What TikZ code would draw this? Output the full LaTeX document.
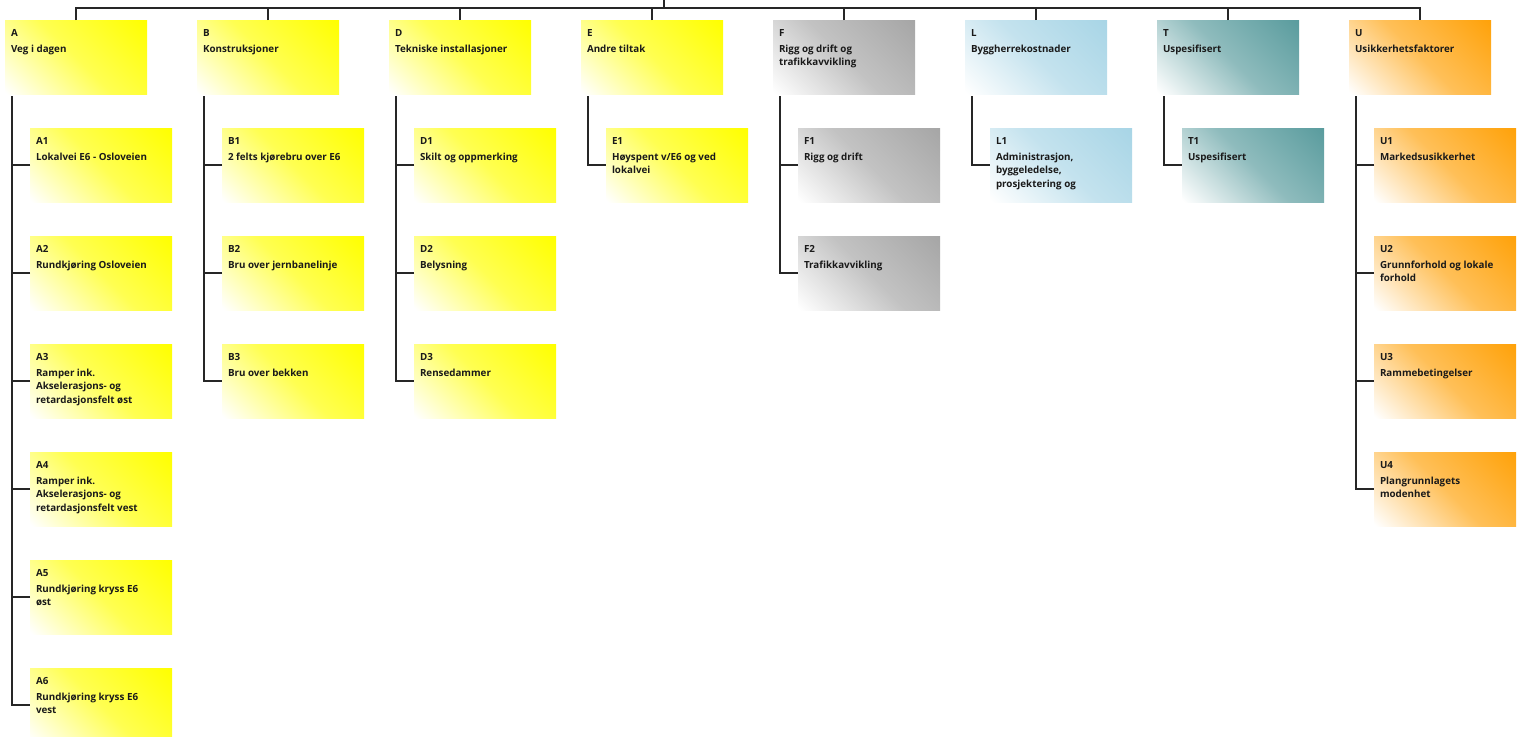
\documentclass[tikz,border=0pt]{standalone}
\usepackage{fontspec}
\setmainfont{Open Sans}
\definecolor{cyel}{HTML}{FFFF00}
\definecolor{cgray}{HTML}{A6A6A6}
\definecolor{cblue}{HTML}{A8D5E6}
\definecolor{cteal}{HTML}{5A9C9E}
\definecolor{corange}{HTML}{FFA20A}
\definecolor{ctext}{HTML}{1A1A1A}
\colorlet{wbsc}{cyel}
\colorlet{wbsm}{cyel}
\pgfdeclareverticalshading[wbsc,wbsm]{wbsfade}{100bp}{color(0bp)=(white); color(15bp)=(white); color(50bp)=(wbsm); color(85bp)=(wbsc); color(100bp)=(wbsc)}
\newcommand\wbstxt[2]{\parbox[t][74pt][t]{130pt}{\raggedright\fontsize{9.8pt}{13.5pt}\selectfont\color{ctext}\bfseries\rule{0pt}{16pt}#1\par\vspace{2.5pt}#2\par}}
\begin{document}
\begin{tikzpicture}[x=1pt,y=-1pt,
  conn/.style={line width=1.3pt, draw=black!85},
  wbs/.style={anchor=north west, inner xsep=6pt, inner ysep=0pt, outer sep=0pt, minimum width=142pt,
    /utils/exec={\colorlet{wbsc}{#1}\colorlet{wbsm}{#1!68!white}},
    shade, shading=wbsfade, shading angle=-45},
]
\useasboundingbox (0,0) rectangle (1520,736);
% parents
\node[wbs=cyel] (A) at (5,20) {\wbstxt{A}{Veg i dagen}};
\node[wbs=cyel] (B) at (197,20) {\wbstxt{B}{Konstruksjoner}};
\node[wbs=cyel] (D) at (389,20) {\wbstxt{D}{Tekniske installasjoner}};
\node[wbs=cyel] (E) at (581,20) {\wbstxt{E}{Andre tiltak}};
\node[wbs=cgray] (F) at (773,20) {\wbstxt{F}{Rigg og drift og\\trafikkavvikling}};
\node[wbs=cblue] (L) at (965,20) {\wbstxt{L}{Byggherrekostnader}};
\node[wbs=cteal] (T) at (1157,20) {\wbstxt{T}{Uspesifisert}};
\node[wbs=corange] (U) at (1349,20) {\wbstxt{U}{Usikkerhetsfaktorer}};
% children A
\node[wbs=cyel] (A1) at (30,128) {\wbstxt{A1}{Lokalvei E6 - Osloveien}};
\node[wbs=cyel] (A2) at (30,236) {\wbstxt{A2}{Rundkjøring Osloveien}};
\node[wbs=cyel] (A3) at (30,344) {\wbstxt{A3}{Ramper ink.\\Akselerasjons- og\\retardasjonsfelt øst}};
\node[wbs=cyel] (A4) at (30,452) {\wbstxt{A4}{Ramper ink.\\Akselerasjons- og\\retardasjonsfelt vest}};
\node[wbs=cyel] (A5) at (30,560) {\wbstxt{A5}{Rundkjøring kryss E6\\øst}};
\node[wbs=cyel] (A6) at (30,668) {\wbstxt{A6}{Rundkjøring kryss E6\\vest}};
% children B
\node[wbs=cyel] (B1) at (222,128) {\wbstxt{B1}{2 felts kjørebru over E6}};
\node[wbs=cyel] (B2) at (222,236) {\wbstxt{B2}{Bru over jernbanelinje}};
\node[wbs=cyel] (B3) at (222,344) {\wbstxt{B3}{Bru over bekken}};
% children D
\node[wbs=cyel] (D1) at (414,128) {\wbstxt{D1}{Skilt og oppmerking}};
\node[wbs=cyel] (D2) at (414,236) {\wbstxt{D2}{Belysning}};
\node[wbs=cyel] (D3) at (414,344) {\wbstxt{D3}{Rensedammer}};
% children E
\node[wbs=cyel] (E1) at (606,128) {\wbstxt{E1}{Høyspent v/E6 og ved\\lokalvei}};
% children F
\node[wbs=cgray] (F1) at (798,128) {\wbstxt{F1}{Rigg og drift}};
\node[wbs=cgray] (F2) at (798,236) {\wbstxt{F2}{Trafikkavvikling}};
% children L
\node[wbs=cblue] (L1) at (990,128) {\wbstxt{L1}{Administrasjon,\\byggeledelse,\\prosjektering og}};
% children T
\node[wbs=cteal] (T1) at (1182,128) {\wbstxt{T1}{Uspesifisert}};
% children U
\node[wbs=corange] (U1) at (1374,128) {\wbstxt{U1}{Markedsusikkerhet}};
\node[wbs=corange] (U2) at (1374,236) {\wbstxt{U2}{Grunnforhold og lokale\\forhold}};
\node[wbs=corange] (U3) at (1374,344) {\wbstxt{U3}{Rammebetingelser}};
\node[wbs=corange] (U4) at (1374,452) {\wbstxt{U4}{Plangrunnlagets\\modenhet}};
% top bus
\coordinate (root) at (664,0);
\coordinate (bus) at (664,8);
\draw[conn] (root) -- (bus);
\draw[conn] (A.north) |- (bus) -| (U.north);
\foreach \p in {B,D,E,F,L,T}{\draw[conn] (\p.north) -- (\p.north |- bus);}
% spines
\foreach \p/\last in {A/A6,B/B3,D/D3,E/E1,F/F2,L/L1,T/T1,U/U4}{
  \coordinate (\p s) at ([xshift=7pt,yshift=-2pt]\p.south west);
  \draw[conn] (\p s) |- (\last.west);
}
\foreach \c/\p in {A1/A,A2/A,A3/A,A4/A,A5/A,B1/B,B2/B,D1/D,D2/D,F1/F,U1/U,U2/U,U3/U}{
  \draw[conn] (\c.west) -- (\c.west -| \p s);
}
\end{tikzpicture}
\end{document}
